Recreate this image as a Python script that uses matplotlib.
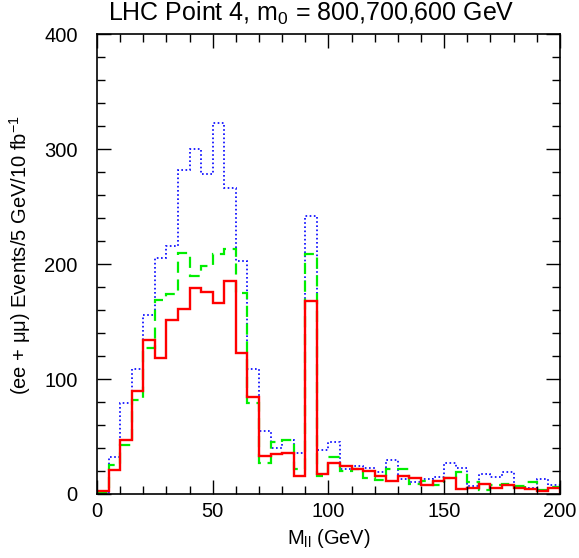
import matplotlib
matplotlib.use("Agg")

import numpy as np
import matplotlib.pyplot as plt
from matplotlib.ticker import MultipleLocator

plt.rcParams["font.family"] = ["Liberation Sans", "DejaVu Sans"]
plt.rcParams["mathtext.default"] = "regular"

# 5 GeV bins from 0 to 200
bin_edges = np.arange(0, 205, 5)

blue_dotted = [2, 32, 79, 109, 156, 205, 216, 282, 300, 278,
               323, 266, 203, 109, 55, 40, 47, 36, 242, 38,
               45, 22, 24, 23, 19, 30, 13, 10, 13, 15,
               27, 23, 7, 17, 15, 19, 7, 5.5, 13, 8]

green_dashed = [1, 25, 43, 82, 127, 169, 174, 210, 190, 198,
                209, 213, 175, 79, 27, 45, 47, 22, 209, 16,
                32, 20, 22, 14, 12, 22, 22, 9, 11, 8,
                14, 19, 10, 3.5, 8, 9, 7, 10, 3.5, 6]

red_solid = [3, 21, 47, 90, 134, 118, 151, 161, 179, 176,
             166, 185, 123, 84, 33, 35, 36, 16, 168, 17,
             27, 24, 22, 20, 16, 11, 16, 14, 8, 11,
             14, 4, 5.5, 9, 5.5, 8, 5.5, 4, 2.6, 5.5]

fig = plt.figure(figsize=(5.79, 5.58), dpi=100)
ax = fig.add_axes([0.1675, 0.1147, 0.7995, 0.8243])

ax.stairs(blue_dotted, bin_edges, color="blue", linestyle=(0, (1, 1.5)), linewidth=1.2)
ax.stairs(green_dashed, bin_edges, color="#00ee00", linestyle=(0, (5, 3)), linewidth=1.6)
ax.stairs(red_solid, bin_edges, color="red", linestyle="-", linewidth=1.7)

ax.set_xlim(0, 200)
ax.set_ylim(0, 400)
ax.xaxis.set_major_locator(MultipleLocator(50))
ax.xaxis.set_minor_locator(MultipleLocator(10))
ax.yaxis.set_major_locator(MultipleLocator(100))
ax.yaxis.set_minor_locator(MultipleLocator(20))
ax.tick_params(which="both", direction="in", top=True, right=True, labelsize=14.5, width=1)
ax.tick_params(which="major", length=10)
ax.tick_params(axis="y", which="major", pad=14)
ax.tick_params(axis="x", which="major", pad=6)
ax.tick_params(which="minor", length=6)
for s in ax.spines.values():
    s.set_linewidth(1.2)

fig.text(0.537, 0.962, "LHC Point 4, m$_0$ = 800,700,600 GeV", fontsize=18,
         ha="center", va="baseline")
ax.set_xlabel("M$_{ll}$ (GeV)", fontsize=14.5, labelpad=4)
ax.set_ylabel("(ee + \u03bc\u03bc) Events/5 GeV/10 fb$^{-1}$", fontsize=14.5)
ax.yaxis.set_label_coords(-0.138, 0.52)

fig.savefig("out.png", dpi=100)
